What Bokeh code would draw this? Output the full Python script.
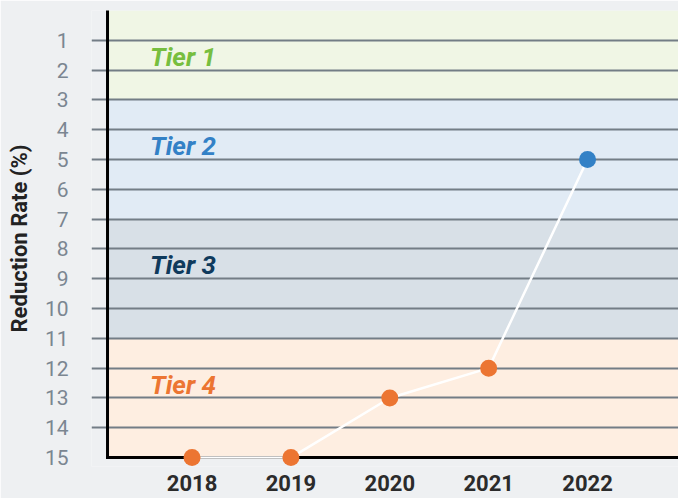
from bokeh.plotting import figure
from bokeh.models import Range1d, FixedTicker, ColumnDataSource
from bokeh.core.properties import value
from bokeh.embed import file_html
from bokeh.resources import INLINE

# ---- data ----
years = [2018, 2019, 2020, 2021, 2022]
reduction_rate = [15, 15, 13, 12, 5]

tier_names = ["Tier 1", "Tier 2", "Tier 3", "Tier 4"]
tier_top = [0, 3, 7, 11]
tier_bottom = [3, 7, 11, 15]
tier_fill = ["#f0f6e5", "#e1ebf5", "#d8e0e7", "#feeee1"]
tier_text = ["#77be3f", "#3381c6", "#0f3a5c", "#ec7532"]

y_ticks = list(range(1, 16))
grid_ticks = list(range(1, 15))

BG = "#eef0f2"
GRID = "#737d86"

# plot-area extents (data units)
x0, x1 = 2017.145, 2022.92      # coloured area / axis lines
x_lo = x0 - 0.162               # extra strip on the left that carries tick marks
y_top, y_axis, y_lo = 0, 15, 15.3

p = figure(width=678, height=498, output_backend="svg", toolbar_location=None,
           x_range=Range1d(x_lo, x1), y_range=Range1d(y_lo, y_top),
           min_border_left=91, min_border_right=0, min_border_top=10, min_border_bottom=32)
p.border_fill_color = BG
p.background_fill_color = BG
p.outline_line_color = None

# tier bands
bands = ColumnDataSource(dict(top=tier_top, bottom=tier_bottom, color=tier_fill))
p.quad(left=x0, right=x1 + 1, top="top", bottom="bottom", fill_color="color",
       line_color=None, source=bands, level="image")

# grid (extends left into the tick strip)
p.xgrid.grid_line_color = None
p.ygrid.ticker = FixedTicker(ticks=grid_ticks)
p.ygrid.grid_line_color = GRID
p.ygrid.grid_line_width = 2
p.ygrid.level = "underlay"

# axis lines (drawn as glyphs so markers can sit on top)
p.segment(x0=[x0, x0], y0=[y_top, y_axis], x1=[x0, x1 + 1], y1=[y_axis, y_axis],
          line_color="black", line_width=3, line_cap="square")

# tier labels
lab = ColumnDataSource(dict(x=[x0 + 0.43] * 4, y=[t + 1.55 for t in tier_top],
                            t=tier_names, c=tier_text))
p.text(x="x", y="y", text="t", text_color="c", source=lab,
       text_font=value("Roboto"), text_font_size="26px", text_font_style="bold italic",
       text_baseline="middle", text_align="left")

# line + points
def tier_color(v):
    for tb, bb, c in zip(tier_top, tier_bottom, tier_text):
        if tb < v <= bb:
            return c
    return tier_text[-1]

pts = ColumnDataSource(dict(x=years, y=reduction_rate,
                            c=[tier_color(v) for v in reduction_rate]))
p.line(x="x", y="y", source=pts, line_color="white", line_width=2.5)
p.scatter(x="x", y="y", source=pts, size=17, fill_color="c", line_color=None)

# y axis
p.yaxis.ticker = FixedTicker(ticks=y_ticks)
p.yaxis.axis_label = "Reduction Rate (%)"
p.yaxis.axis_label_text_font = "Roboto"
p.yaxis.axis_label_text_font_style = "bold"
p.yaxis.axis_label_text_font_size = "22px"
p.yaxis.axis_label_text_color = "#222222"
p.yaxis.axis_label_standoff = 10
p.yaxis.major_label_text_font = "Roboto"
p.yaxis.major_label_text_font_size = "21px"
p.yaxis.major_label_text_color = "#7b8691"
p.yaxis.major_label_standoff = 17
p.yaxis.major_tick_line_color = None
p.yaxis.minor_tick_line_color = None
p.yaxis.axis_line_color = None

# x axis
p.xaxis.ticker = FixedTicker(ticks=years)
p.xaxis.major_label_text_font = "Roboto"
p.xaxis.major_label_text_font_style = "bold"
p.xaxis.major_label_text_font_size = "22px"
p.xaxis.major_label_text_color = "#2b2b2b"
p.xaxis.major_label_standoff = 2
p.xaxis.major_tick_line_color = None
p.xaxis.minor_tick_line_color = None
p.xaxis.axis_line_color = None

open("out.html", "w").write(file_html(p, INLINE))
